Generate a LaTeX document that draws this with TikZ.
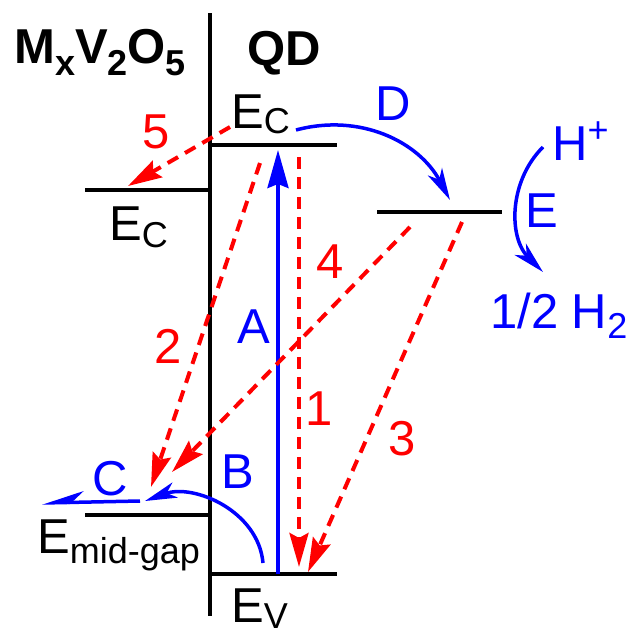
\documentclass[tikz,border=0pt]{standalone}
\usepackage{fontspec}
\setmainfont{Liberation Sans}
\usetikzlibrary{arrows.meta}
\newcommand\mysub[2][6pt]{\raisebox{-#1}{\fontsize{36}{36}\selectfont #2}}
\newcommand\mysup[2][18pt]{\raisebox{#1}{\fontsize{36}{36}\selectfont #2}}
\begin{document}
\begin{tikzpicture}[x=1pt,y=-1pt,
  lvl/.style={line width=4pt, black},
  txt/.style={inner sep=0pt, anchor=base west, font=\fontsize{49}{49}\selectfont},
  bold/.style={txt, font=\fontsize{49}{49}\selectfont\bfseries},
  redlbl/.style={txt, text=red},
  bluelbl/.style={txt, text=blue},
  reddash/.style={red, line width=4pt, dash pattern=on 12pt off 8pt, -{Stealth[length=34pt,width=19pt,inset=5pt]}},
  bluearr/.style={blue, line width=3.5pt, -{Stealth[length=38pt,width=21pt,inset=4pt]}},
  bluecurve/.style={blue, line width=3.5pt, -{Stealth[length=32pt,width=16pt,inset=9pt]}},
  bluehalf/.style={blue, line width=3.5pt, -{Stealth[length=36pt,width=22pt,inset=12pt,harpoon,swap]}}
]
\useasboundingbox (0,0) rectangle (628,633);
% coordinates
\coordinate (vtop) at (210,13);
\coordinate (vbot) at (210,616);
\coordinate (qcL) at (210,145); \coordinate (qcR) at (337,145);
\coordinate (mcL) at (85,190);  \coordinate (mcR) at (210,190);
\coordinate (trL) at (377,212); \coordinate (trR) at (502,212);
\coordinate (mgL) at (85,515);  \coordinate (mgR) at (210,515);
\coordinate (evL) at (210,574); \coordinate (evR) at (337,574);
% levels
\draw[lvl] (vtop) -- (vbot);
\draw[lvl] (qcL) -- (qcR);
\draw[lvl] (mcL) -- (mcR);
\draw[lvl] (trL) -- (trR);
\draw[lvl] (mgL) -- (mgR);
\draw[lvl] (evL) -- (evR);
% texts
\node[bold] (title) at (14,63) {M\mysub[12pt]{x}V\mysub[12pt]{2}O\mysub[12pt]{5}};
\node[bold] (qd) at (247,65) {QD};
\node[txt] (ecq) at (231,128) {E\mysub[5pt]{C}};
\node[txt] (ecm) at (109,240) {E\mysub[7pt]{C}};
\node[txt] (emg) at (37,553) {E\mysub[10pt]{mid-gap}};
\node[txt] (ev) at (231,622) {E\mysub[6pt]{V}};
% arrow endpoints
\coordinate (a1s) at (299,157); \coordinate (a1e) at (299,567);
\coordinate (aAs) at (278,574); \coordinate (aAe) at (278,150);
\coordinate (a2s) at (260,163); \coordinate (a2e) at (151,487);
\coordinate (a3s) at (462,222); \coordinate (a3e) at (308,572);
\coordinate (a4s) at (410,227); \coordinate (a4e) at (172,472);
\coordinate (a5s) at (230,127); \coordinate (a5e) at (128,186);
\coordinate (aDs) at (296,130); \coordinate (aDe) at (450,200);
\coordinate (aEs) at (543,147); \coordinate (aEe) at (543,272);
\coordinate (aBs) at (263,563); \coordinate (aBe) at (145,501);
\coordinate (aCs) at (140,501); \coordinate (aCe) at (42,503);
% blue arrows
\draw[bluearr] (aAs) -- (aAe);
\draw[bluecurve] (aDs) to[out=15,in=118] (aDe);
\draw[bluecurve] (aEs) to[out=225,in=135] (aEe);
\draw[bluecurve] (aBs) to[out=95,in=20] (aBe);
\draw[bluehalf] (aCs) -- (aCe);
% red arrows
\draw[reddash] (a1s) -- (a1e);
\draw[reddash] (a2s) -- (a2e);
\draw[reddash] (a3s) -- (a3e);
\draw[reddash] (a4s) -- (a4e);
\draw[reddash] (a5s) -- (a5e);
% labels
\node[bluelbl] (lA) at (237,343) {A};
\node[bluelbl] (lB) at (221,488) {B};
\node[bluelbl] (lC) at (92,495) {C};
\node[bluelbl] (lD) at (375,120) {D};
\node[bluelbl] (lE) at (525,227) {E};
\node[bluelbl] (lH) at (552,160) {H\mysup{+}};
\node[bluelbl] (lH2) at (490,328) {1/2 H\mysub[10pt]{2}};
\node[redlbl] (l1) at (305,425) {1};
\node[redlbl] (l2) at (154,363) {2};
\node[redlbl] (l3) at (388,455) {3};
\node[redlbl] (l4) at (316,278) {4};
\node[redlbl] (l5) at (142,148) {5};
\end{tikzpicture}
\end{document}
